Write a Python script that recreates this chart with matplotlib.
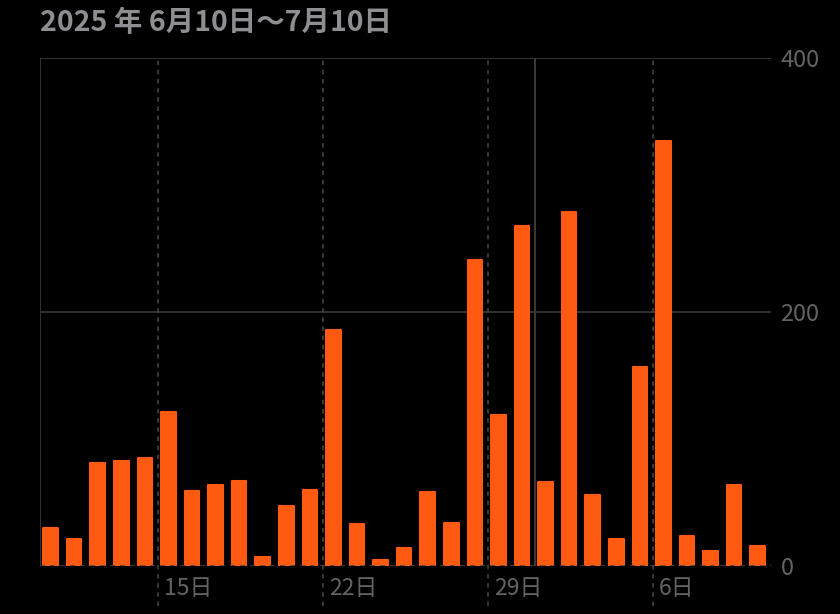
import matplotlib.pyplot as plt
from matplotlib.transforms import blended_transform_factory

plt.rcParams['font.family'] = ['Noto Sans CJK JP', 'DejaVu Sans']

# 2025/6/10 ～ 7/10 の日別値
days = list(range(10, 31)) + list(range(1, 11))
values = [30, 21, 81, 83, 85, 121, 59, 64, 67, 7, 47, 60, 186, 33, 5, 14,
          58, 34, 241, 119, 268, 66, 279, 56, 21, 157, 335, 24, 12, 64, 16]
tick_pos = [5, 12, 19, 26]
tick_labels = ["15日", "22日", "29日", "6日"]
month_start = 21
yticks = [0, 200, 400]

bg = "#000000"
bar_c = "#FF5A12"
grid_c = "#3a3a3c"
lab_c = "#636366"

fig = plt.figure(figsize=(8.4, 6.14), dpi=100, facecolor=bg)
ax = fig.add_axes([40/840, 1-566/614, 730.7/840, 508/614])
ax.set_facecolor(bg)

x = [i + 0.45 for i in range(len(values))]
ax.bar(x, values, width=0.62, color=bar_c, edgecolor=bar_c, linewidth=1.5,
       joinstyle='round', zorder=3)

ax.set_xlim(0, len(values))
ax.set_ylim(0, 400)

for s in ax.spines.values():
    s.set_visible(False)
ax.axvline(0, color=grid_c, lw=1.2, zorder=1)
ax.axhline(400, color=grid_c, lw=1.2, zorder=1)
ax.axhline(200, color=grid_c, lw=1.2, zorder=1)
ax.axhline(0, color="#48484a", lw=1.2, ls=(0, (3, 3)), zorder=4)
ax.axvline(month_start, color=grid_c, lw=1.4, zorder=1)
for p in tick_pos:
    ax.axvline(p, ymin=-0.079, ymax=1, color="#48484a", lw=1.1,
               ls=(0, (3, 3)), clip_on=False, zorder=2)

ax.set_xticks([])
ax.yaxis.tick_right()
ax.set_yticks(yticks)
ax.set_yticklabels([str(v) for v in yticks])
ax.tick_params(axis='y', length=0, pad=7, labelsize=17, labelcolor=lab_c)

tr = blended_transform_factory(ax.transData, ax.transAxes)
for p, t in zip(tick_pos, tick_labels):
    ax.annotate(t, xy=(p, 0), xycoords=tr, xytext=(4.5, -16),
                textcoords='offset points', ha='left', va='center',
                fontsize=16.5, color=lab_c)

fig.text(40/840, 1-23/614, "2025 年 6月10日〜7月10日", ha='left', va='center',
         fontsize=20.5, fontweight='bold', color="#8e8e93")

plt.savefig("out.png", dpi=100, facecolor=bg)
